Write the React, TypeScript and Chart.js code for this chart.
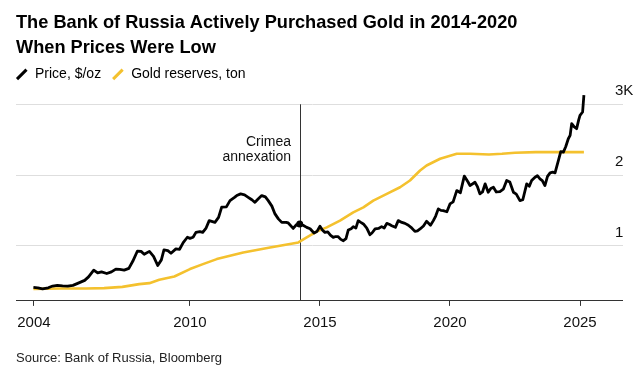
import React, { useEffect, useRef } from 'react';
import { Chart, registerables } from 'chart.js';

Chart.register(...registerables);

const titleLines = ['The Bank of Russia Actively Purchased Gold in 2014-2020', 'When Prices Were Low'];
const sourceText = 'Source: Bank of Russia, Bloomberg';
const seriesLabels = ['Price, $/oz', 'Gold reserves, ton'];
const seriesColors = ['#000000', '#f4c12e'];
const xTickYears = [2004, 2010, 2015, 2020, 2025];
const yTickValues = [1000, 2000, 3000];
const yTickLabels = ['1', '2', '3K'];
const crimeaYear = 2014.22;
const crimeaLabel = ['Crimea', 'annexation'];

const priceYears = [
  2003.98, 2004.15, 2004.33, 2004.55, 2004.72, 2004.9, 2005.1, 2005.3, 2005.5, 2005.75, 2005.95,
  2006.1, 2006.3, 2006.45, 2006.6, 2006.8, 2006.98, 2007.15, 2007.3, 2007.47, 2007.65, 2007.8, 2007.98,
  2008.12, 2008.24, 2008.44, 2008.6, 2008.76, 2008.9, 2009.0, 2009.15, 2009.27, 2009.46, 2009.6, 2009.74, 2009.9,
  2010.0, 2010.12, 2010.23, 2010.38, 2010.49, 2010.62, 2010.74, 2010.96, 2011.1, 2011.22, 2011.4, 2011.54,
  2011.7, 2011.8, 2011.95, 2012.1, 2012.24, 2012.38, 2012.5, 2012.62, 2012.76, 2012.9, 2013.01, 2013.15,
  2013.27, 2013.4, 2013.53, 2013.7, 2013.78, 2013.97, 2014.1, 2014.22, 2014.35, 2014.49, 2014.62, 2014.77,
  2014.88, 2015.0, 2015.1, 2015.19, 2015.3, 2015.4, 2015.51, 2015.6, 2015.7, 2015.8, 2015.9, 2016.0,
  2016.09, 2016.2, 2016.28, 2016.38, 2016.47, 2016.57, 2016.67, 2016.8, 2016.92, 2017.0, 2017.12, 2017.25,
  2017.37, 2017.47, 2017.57, 2017.68, 2017.76, 2017.9, 2018.01, 2018.15, 2018.27, 2018.4, 2018.5, 2018.65,
  2018.75, 2018.85, 2018.98, 2019.1, 2019.25, 2019.36, 2019.45, 2019.55, 2019.65, 2019.74, 2019.88, 2020.0,
  2020.12, 2020.26, 2020.4, 2020.55, 2020.7, 2020.77, 2020.96, 2021.05, 2021.15, 2021.25, 2021.35, 2021.47,
  2021.57, 2021.67, 2021.78, 2021.92, 2022.05, 2022.18, 2022.3, 2022.44, 2022.55, 2022.69, 2022.8, 2022.95,
  2023.05, 2023.14, 2023.27, 2023.36, 2023.46, 2023.55, 2023.65, 2023.75, 2023.85, 2023.95, 2024.04, 2024.17,
  2024.26, 2024.36, 2024.45, 2024.55, 2024.62, 2024.68, 2024.78, 2024.87, 2024.95, 2025.0, 2025.1, 2025.15,
];
const priceValues = [
  410, 405, 390, 405, 430, 440, 432, 428, 440, 478, 510,
  560, 655, 615, 630, 607, 630, 670, 665, 655, 680, 780, 925,
  920, 880, 920, 850, 720, 800, 940, 930, 893, 955, 950, 1045, 1120,
  1104, 1120, 1189, 1200, 1189, 1250, 1355, 1330, 1400, 1545, 1550, 1638,
  1680, 1709, 1733, 1720, 1685, 1650, 1614, 1660, 1709, 1690, 1638, 1560,
  1450, 1380, 1330, 1330, 1322, 1245, 1300, 1308, 1290, 1260, 1240, 1180,
  1200, 1275, 1220, 1189, 1195, 1150, 1118, 1130, 1128, 1090, 1071, 1100,
  1223, 1240, 1270, 1250, 1355, 1330, 1308, 1250, 1156, 1180, 1237, 1245,
  1270, 1250, 1316, 1300, 1284, 1260, 1355, 1330, 1316, 1290, 1260, 1203,
  1210, 1237, 1280, 1345, 1290, 1355, 1420, 1521, 1500, 1496, 1480, 1591,
  1620, 1780, 1750, 1985, 1898, 1851, 1898, 1840, 1733, 1760, 1875, 1756,
  1810, 1827, 1760, 1766, 1800, 1922, 1900, 1756, 1730, 1638, 1650, 1875,
  1840, 1922, 1969, 1990, 1946, 1920, 1851, 1980, 2031, 2040, 2031, 2206,
  2330, 2323, 2400, 2513, 2560, 2726, 2680, 2655, 2780, 2844, 2891, 3128,
];

const reserveYears = [
  2003.98, 2005.0, 2006.0, 2006.7, 2007.4, 2008.05, 2008.44, 2008.82, 2009.4, 2010.0, 2010.5, 2011.03,
  2012.05, 2013.08, 2014.17, 2014.49, 2014.87, 2015.26, 2015.77, 2016.28, 2016.67, 2017.05, 2017.57,
  2018.08, 2018.46, 2018.85, 2019.1, 2019.62, 2020.26, 2020.77, 2021.5, 2022.0, 2022.5, 2023.3, 2025.15,
];
const reserveValues = [
  390, 395, 395, 400, 418, 457, 471, 518, 565, 670, 740, 811,
  905, 976, 1047, 1118, 1199, 1260, 1355, 1472, 1543, 1638, 1733,
  1827, 1922, 2064, 2135, 2230, 2300, 2300, 2290, 2300, 2315, 2323, 2323,
];

const FONT = '"Liberation Sans", Arial, Helvetica, sans-serif';
const AXIS_EXTENSION = 14;

const legendPlugin = {
  id: 'lineLegend',
  afterDraw(chart: any) {
    const ctx = chart.ctx;
    const y = chart.chartArea.top - 16;
    let x = chart.chartArea.left + 1;
    ctx.save();
    ctx.font = `14px ${FONT}`;
    ctx.textBaseline = 'middle';
    ctx.textAlign = 'left';
    chart.data.datasets.forEach((ds: any) => {
      ctx.strokeStyle = ds.borderColor;
      ctx.lineWidth = 3;
      ctx.lineCap = 'butt';
      ctx.beginPath();
      ctx.moveTo(x, y + 5);
      ctx.lineTo(x + 9.5, y - 4.5);
      ctx.stroke();
      ctx.fillStyle = '#000';
      ctx.fillText(ds.label, x + 18, y);
      x = x + 18 + ctx.measureText(ds.label).width + 12;
    });
    ctx.restore();
  },
};

const crimeaPlugin = {
  id: 'crimea',
  beforeDatasetsDraw(chart: any) {
    const { ctx, scales, chartArea } = chart;
    const px = Math.round(scales.x.getPixelForValue(crimeaYear)) + 0.5;
    const top = scales.y.getPixelForValue(3000);
    ctx.save();
    ctx.strokeStyle = '#333';
    ctx.lineWidth = 1;
    ctx.beginPath();
    ctx.moveTo(px, top);
    ctx.lineTo(px, chartArea.bottom);
    ctx.stroke();
    ctx.font = `14px ${FONT}`;
    ctx.fillStyle = '#111';
    ctx.textAlign = 'right';
    ctx.textBaseline = 'middle';
    crimeaLabel.forEach((t, i) => {
      ctx.fillText(t, px - 9.5, top + 38 + i * 14.7);
    });
    ctx.restore();
  },
  afterDraw(chart: any) {
    const { ctx, scales, chartArea } = chart;
    // extend the x-axis baseline under the right-hand labels
    const by = Math.round(scales.x.top - 0.5) + 0.5;
    ctx.save();
    ctx.strokeStyle = '#333';
    ctx.lineWidth = 1;
    ctx.beginPath();
    ctx.moveTo(chartArea.right - 2, by);
    ctx.lineTo(chartArea.right + AXIS_EXTENSION, by);
    ctx.stroke();
    ctx.restore();
  },
};

export default function App() {
  const canvasRef = useRef<HTMLCanvasElement | null>(null);

  useEffect(() => {
    if (!canvasRef.current) return;
    Chart.defaults.font.family = FONT;
    const crimeaIndex = priceYears.indexOf(crimeaYear);
    const chart = new Chart(canvasRef.current, {
      type: 'line',
      data: {
        datasets: [
          {
            label: seriesLabels[0],
            data: priceYears.map((x, i) => ({ x, y: priceValues[i] })),
            borderColor: seriesColors[0],
            backgroundColor: seriesColors[0],
            borderWidth: 2.8,
            pointRadius: (c: any) => (c.dataIndex === crimeaIndex ? 3.5 : 0),
            pointHoverRadius: 0,
            pointBorderWidth: 0,
            tension: 0,
            borderJoinStyle: 'round',
          },
          {
            label: seriesLabels[1],
            data: reserveYears.map((x, i) => ({ x, y: reserveValues[i] })),
            borderColor: seriesColors[1],
            backgroundColor: seriesColors[1],
            borderWidth: 2.6,
            pointRadius: 0,
            tension: 0,
            borderJoinStyle: 'round',
          },
        ],
      },
      options: {
        animation: false,
        responsive: true,
        maintainAspectRatio: false,
        devicePixelRatio: 1,
        layout: { padding: { left: 8, right: 0, top: 0, bottom: 0 } },
        plugins: {
          legend: { display: false },
          tooltip: { enabled: false },
          title: {
            display: true,
            text: titleLines,
            align: 'start',
            color: '#000',
            font: { size: 18.2, weight: 'bold', lineHeight: 1.35 },
            padding: { top: 3, bottom: 30 },
          },
          subtitle: {
            display: true,
            position: 'bottom',
            text: sourceText,
            align: 'start',
            color: '#222',
            font: { size: 13, lineHeight: 1.2 },
            padding: { top: 10.5, bottom: 1 },
          },
        },
        scales: {
          x: {
            type: 'linear',
            min: 2003.31,
            max: 2026.115,
            afterBuildTicks: (s: any) => {
              s.ticks = xTickYears.map((v) => ({ value: v }));
            },
            ticks: {
              color: '#111',
              font: { size: 15 },
              padding: 8,
              maxRotation: 0,
              autoSkip: false,
              callback: (v: any) => String(v),
            },
            grid: { drawOnChartArea: false, drawTicks: true, tickLength: 5, color: '#333' },
            border: { display: true, color: '#333', width: 1 },
          },
          y: {
            type: 'linear',
            position: 'right',
            min: 220,
            max: 3200,
            afterBuildTicks: (s: any) => {
              s.ticks = yTickValues.map((v) => ({ value: v }));
            },
            afterFit: (s: any) => {
              s.width = 27;
            },
            ticks: {
              color: '#111',
              font: { size: 15 },
              padding: -8,
              labelOffset: -13,
              callback: (v: any) => {
                const i = yTickValues.indexOf(v);
                return i >= 0 ? yTickLabels[i] : '';
              },
            },
            grid: { drawTicks: true, tickLength: AXIS_EXTENSION, color: '#dedede', lineWidth: 1 },
            border: { display: false },
          },
        },
      },
      plugins: [legendPlugin, crimeaPlugin],
    } as any);
    return () => chart.destroy();
  }, []);

  return (
    <div style={{ width: 628, height: 359, position: 'relative' }}>
      <canvas ref={canvasRef} />
    </div>
  );
}
